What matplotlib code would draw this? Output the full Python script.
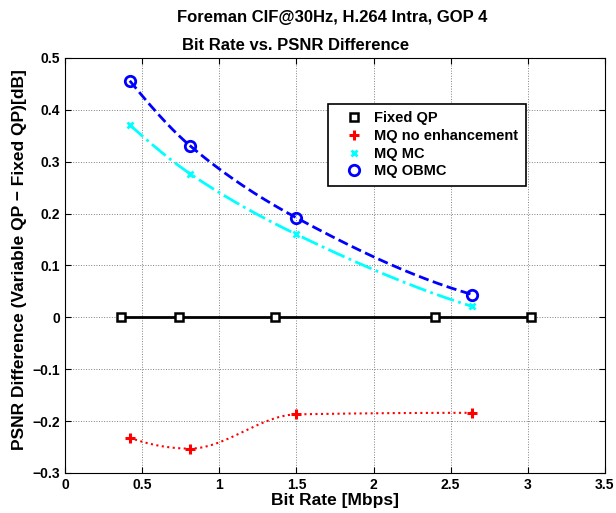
import matplotlib
matplotlib.use("Agg")
import matplotlib.pyplot as plt
import numpy as np

plt.rcParams['font.family'] = ['Liberation Sans', 'DejaVu Sans']
plt.rcParams['font.weight'] = 'bold'

# data
fixed_x = [0.36, 0.74, 1.36, 2.40, 3.02]
fixed_y = [0.0, 0.0, 0.0, 0.0, 0.0]

mq_x = [0.42, 0.81, 1.50, 2.64]
noenh_y = [-0.232, -0.253, -0.187, -0.184]
mc_y = [0.371, 0.277, 0.160, 0.021]
obmc_y = [0.456, 0.331, 0.192, 0.044]


def pchip(x, y, n=200):
    # shape preserving cubic, only for drawing the smooth lines
    x = np.asarray(x, float)
    y = np.asarray(y, float)
    h = np.diff(x)
    dl = np.diff(y) / h
    k = len(x)
    d = np.zeros(k)
    for i in range(1, k - 1):
        if dl[i - 1] * dl[i] > 0:
            w1 = 2 * h[i] + h[i - 1]
            w2 = h[i] + 2 * h[i - 1]
            d[i] = (w1 + w2) / (w1 / dl[i - 1] + w2 / dl[i])

    def end(h0, h1, d0, d1):
        e = ((2 * h0 + h1) * d0 - h0 * d1) / (h0 + h1)
        if np.sign(e) != np.sign(d0):
            e = 0.0
        elif np.sign(d0) != np.sign(d1) and abs(e) > abs(3 * d0):
            e = 3 * d0
        return e

    d[0] = end(h[0], h[1], dl[0], dl[1])
    d[-1] = end(h[-1], h[-2], dl[-1], dl[-2])
    xs = np.linspace(x[0], x[-1], n)
    idx = np.clip(np.searchsorted(x, xs) - 1, 0, k - 2)
    t = (xs - x[idx]) / h[idx]
    h00 = 2 * t ** 3 - 3 * t ** 2 + 1
    h10 = t ** 3 - 2 * t ** 2 + t
    h01 = -2 * t ** 3 + 3 * t ** 2
    h11 = t ** 3 - t ** 2
    ys = h00 * y[idx] + h10 * h[idx] * d[idx] + h01 * y[idx + 1] + h11 * h[idx] * d[idx + 1]
    return xs, ys


fig = plt.figure(figsize=(6.16, 5.13), dpi=100)
ax = fig.add_axes([0.1055, 0.078, 0.8765, 0.809])

ax.plot(fixed_x, fixed_y, color='black', lw=2)
ax.plot(*pchip(mq_x, noenh_y), color='red', lw=1.5, ls=':')
ax.plot(*pchip(mq_x, mc_y), color='cyan', lw=2, ls='-.')
ax.plot(*pchip(mq_x, obmc_y), color='blue', lw=2, ls='--')

ax.plot(fixed_x, fixed_y, 's', ms=6, mfc='white', mec='black', mew=1.8, ls='none', label='Fixed QP')
ax.plot(mq_x, noenh_y, '+', ms=7, mec='red', mew=2.2, ls='none', label='MQ no enhancement')
ax.plot(mq_x, mc_y, 'x', ms=5, mec='cyan', mew=2, ls='none', label='MQ MC')
ax.plot(mq_x, obmc_y, 'o', ms=7.5, mfc='none', mec='blue', mew=2, ls='none', label='MQ OBMC')

ax.set_xlim(0, 3.5)
ax.set_ylim(-0.3, 0.5)
ax.set_xticks(np.arange(0, 3.51, 0.5))
ax.set_xticklabels(['0', '0.5', '1', '1.5', '2', '2.5', '3', '3.5'])
ax.set_yticks(np.arange(-0.3, 0.51, 0.1))
ax.set_yticklabels(['\u22120.3', '\u22120.2', '\u22120.1', '0', '0.1', '0.2', '0.3', '0.4', '0.5'])
ax.tick_params(direction='in', top=True, right=True, labelsize=10, length=4)
ax.grid(True, ls=':', color='gray', lw=0.7)

ax.set_xlabel('Bit Rate [Mbps]', fontsize=12.5, fontweight='bold', labelpad=1)
ax.set_ylabel('PSNR Difference (Variable QP \u2212 Fixed QP)[dB]', fontsize=12.5, fontweight='bold')
ax.yaxis.set_label_coords(-0.07, 0.515)

fig.text(0.287, 0.957, 'Foreman CIF@30Hz, H.264 Intra, GOP 4', ha='left', va='baseline',
         fontsize=12, fontweight='bold')
fig.text(0.296, 0.903, 'Bit Rate vs. PSNR Difference', ha='left', va='baseline',
         fontsize=12, fontweight='bold')

leg = ax.legend(loc='upper left', bbox_to_anchor=(0.532, 0.797), bbox_transform=fig.transFigure,
                borderaxespad=0, fontsize=10.5, frameon=True, fancybox=False, edgecolor='black',
                framealpha=1, handlelength=2.6, handletextpad=0.1, borderpad=0.5, labelspacing=0.25)
leg.get_frame().set_linewidth(1.2)

fig.savefig('out.png', dpi=100)
